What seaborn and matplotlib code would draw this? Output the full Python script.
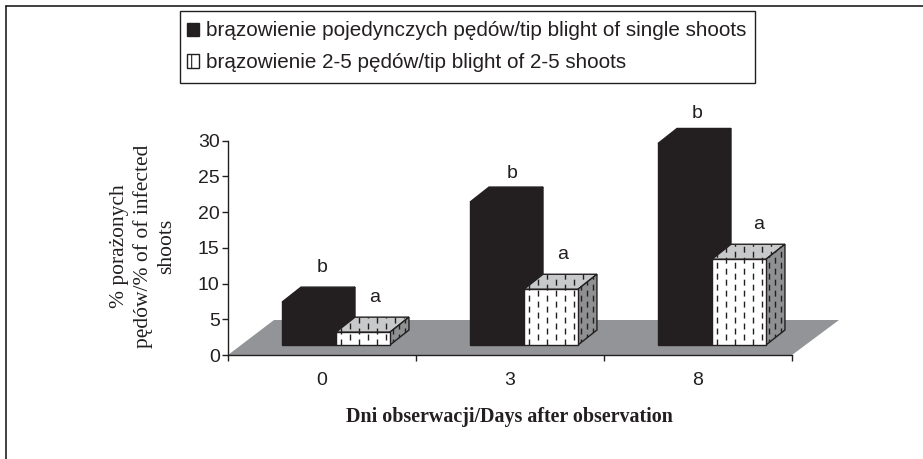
import numpy as np
import pandas as pd
import seaborn as sns
from matplotlib import pyplot as plt
from matplotlib.lines import Line2D
from matplotlib.patches import Patch, Polygon, Rectangle

# values
days = ['0', '3', '8']
single_shoots = [6, 20, 28.2]
group_shoots = [1.8, 7.8, 12]
letters_single = ['b', 'b', 'b']
letters_group = ['a', 'a', 'a']
y_ticks = [0, 5, 10, 15, 20, 25, 30]

label_single = 'brązowienie pojedynczych pędów/tip blight of single shoots'
label_group = 'brązowienie 2-5 pędów/tip blight of 2-5 shoots'

dark = '#231f20'
floor_grey = '#929497'
top_grey = '#c8c9ca'
side_grey = '#8e9091'

W, H = 923, 459

sns.set_theme(style='ticks')
plt.rcParams['font.family'] = ['Liberation Sans', 'DejaVu Sans']
plt.rcParams['lines.scale_dashes'] = False
plt.rcParams['hatch.linewidth'] = 0.8

data = pd.DataFrame({
    'day': days * 2,
    'value': single_shoots + group_shoots,
    'type': [label_single] * 3 + [label_group] * 3,
})

fig = plt.figure(figsize=(W / 100, H / 100), dpi=100, facecolor='white')
ax = fig.add_axes([228 / W, (H - 355) / H, 564 / W, 214.4 / H])
ax.patch.set_alpha(0)

# one x unit is 188 px, one y unit is 7.15 px
px_x = 1 / 188
px_y = 30 / 214.4
base = 10 * px_y
depth_x = 19 * px_x
depth_y = 15 * px_y

sns.barplot(data=data, x='day', y='value', hue='type', order=days,
            palette=[dark, 'white'], width=0.574, gap=0, bottom=base,
            edgecolor=dark, linewidth=1, saturation=1, legend=False, ax=ax)

x_left = -108 * px_x
x_right = x_left + 3
ax.set_xlim(x_left, x_right)
ax.set_ylim(0, 30)

# floor of the 3D chart
floor = Polygon([(x_left, 0), (x_left + 46 * px_x, 35 * px_y),
                 (x_right + 47 * px_x, 35 * px_y), (x_right, 0)],
                closed=True, facecolor=floor_grey, edgecolor='none',
                clip_on=False, zorder=0.5)
ax.add_patch(floor)


def dashes(xy, spacing, z):
    # staggered vertical dashes, clipped on one face of the bar
    xs = np.arange(min(p[0] for p in xy) + spacing * px_x / 2,
                   max(p[0] for p in xy), spacing * px_x)
    y0 = base
    y1 = max(p[1] for p in xy)
    clip = Polygon(xy, closed=True, transform=ax.transData)
    for i, x in enumerate(xs):
        start = y0 + 5.5 * px_y if i % 2 else y0
        line = Line2D([x, x], [start, y1], color=dark, lw=1.0,
                      dashes=(4.3, 3.6), dash_capstyle='butt', zorder=z)
        ax.add_line(line)
        line.set_clip_path(clip)


def extrude(bar, top_color, side_color, z, hatch):
    x0 = bar.get_x()
    x1 = x0 + bar.get_width()
    y0 = bar.get_y()
    y1 = y0 + bar.get_height()
    top = [(x0, y1), (x0 + depth_x, y1 + depth_y),
           (x1 + depth_x, y1 + depth_y), (x1, y1)]
    side = [(x1, y0), (x1 + depth_x, y0 + depth_y),
            (x1 + depth_x, y1 + depth_y), (x1, y1)]
    for xy, color in [(top, top_color), (side, side_color)]:
        ax.add_patch(Polygon(xy, closed=True, facecolor=color, edgecolor=dark,
                             linewidth=1, clip_on=False, zorder=z))
        if hatch:
            dashes(xy, 9 if xy is top else 6, z + 0.1)
    if hatch:
        dashes([(x0, y0), (x1, y0), (x1, y1), (x0, y1)], 9, z + 1.5)


black_bars = ax.containers[0]
white_bars = ax.containers[1]
for bar in black_bars:
    bar.set_zorder(2)
    bar.set_clip_on(False)
    extrude(bar, dark, dark, 1.9, False)
for bar in white_bars:
    bar.set_zorder(4)
    bar.set_clip_on(False)
    extrude(bar, top_grey, side_grey, 3, True)

# significance letters, nudged by hand in px
nudge_single = [13, 15, 12]
nudge_group = [12, 12, 20]
lift_single = [35, 29, 30]
lift_group = [35, 35, 35]
for bars, letters, nudge, lift in [(black_bars, letters_single, nudge_single, lift_single),
                                   (white_bars, letters_group, nudge_group, lift_group)]:
    for bar, letter, dx, dy in zip(bars, letters, nudge, lift):
        ax.text(bar.get_x() + bar.get_width() / 2 + dx * px_x,
                bar.get_y() + bar.get_height() + dy * px_y, letter,
                ha='center', va='center', fontsize=14, color=dark, zorder=6,
                clip_on=False)

# axes: tick marks between the groups, labels on the groups
ax.set_xticks([x_left + i for i in range(4)])
ax.set_xticklabels([])
ax.set_xticks([x_left + 0.5 + i for i in range(3)], minor=True)
ax.set_xticklabels(days, minor=True, fontsize=14, color=dark)
ax.tick_params(axis='x', which='major', length=4, width=1, color=dark)
ax.tick_params(axis='x', which='minor', length=0, pad=12)
ax.set_yticks(y_ticks)
ax.set_yticklabels([str(v) for v in y_ticks], fontsize=14, color=dark)
ax.tick_params(axis='y', length=4, width=1, color=dark, pad=2)
ax.set_xlabel('')
ax.set_ylabel('')
sns.despine(ax=ax, top=True, right=True)
for side in ['left', 'bottom']:
    ax.spines[side].set_color(dark)
    ax.spines[side].set_linewidth(1)
    ax.spines[side].set_zorder(7)

fig.text(143 / W, 1 - 246 / H, '% porażonych\npędów/% of of infected\nshoots',
         rotation=90, ha='center', va='center', multialignment='center',
         family='Liberation Serif', fontsize=15.5, color=dark, linespacing=1.3)
fig.text(509 / W, 1 - 417 / H, 'Dni obserwacji/Days after observation',
         ha='center', va='center', family='Liberation Serif', weight='bold',
         fontsize=14.4, color=dark)

# legend box is drawn apart so that it keeps its own margins
fig.add_artist(Rectangle((180 / W, 1 - 83 / H), 575 / W, 72 / H,
                         transform=fig.transFigure, facecolor='white',
                         edgecolor=dark, linewidth=1))
handles = [Patch(facecolor=dark, edgecolor=dark, label=label_single),
           Patch(facecolor='white', edgecolor=dark, hatch='|', label=label_group)]
leg = fig.legend(handles=handles, loc='upper left',
                 bbox_to_anchor=(187 / W, 1 - 21.5 / H), borderaxespad=0,
                 fontsize=14.9, frameon=False, handlelength=0.6,
                 handleheight=0.6, handletextpad=0.33, borderpad=0,
                 labelspacing=0.62, labelcolor=dark)

# page frame: only the left and top rules show
fig.add_artist(Line2D([5.5 / W, 5.5 / W], [0, 1 - 6 / H], color=dark, lw=1.2))
fig.add_artist(Line2D([5.5 / W, 1], [1 - 6 / H, 1 - 6 / H], color=dark, lw=1.2))

fig.savefig('out.png', dpi=100, facecolor='white')
